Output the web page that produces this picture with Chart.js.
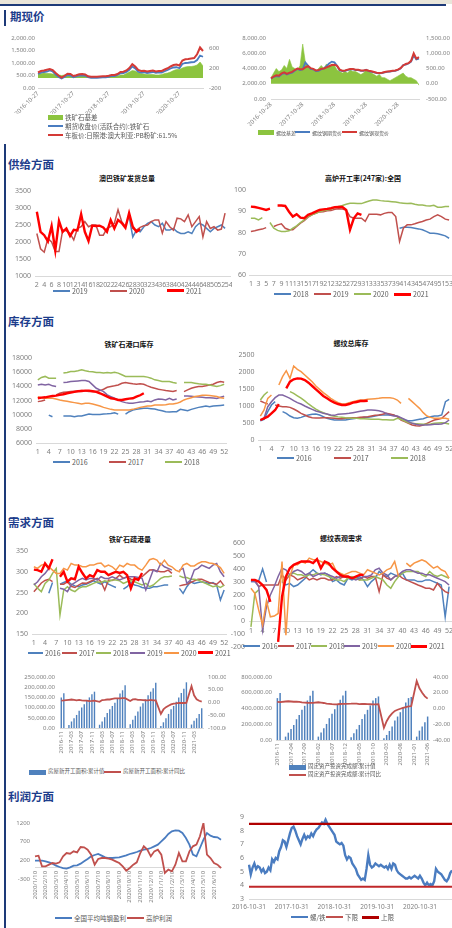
<!DOCTYPE html>
<html lang="zh-CN">
<head>
<meta charset="utf-8">
<title>黑色产业链数据跟踪</title>
<script src="https://cdn.jsdelivr.net/npm/chart.js@4.4.1/dist/chart.umd.min.js"></script>
<style>
  html, body { margin: 0; padding: 0; background: #fff; }
  body { position: relative; width: 452px; height: 928px; overflow: hidden;
         font-family: "Noto Sans CJK SC", "Noto Sans", sans-serif; }
  .band { position: absolute; left: 0; top: 0; width: 452px; height: 4px; background: #e9e5d9; }
  .rule { position: absolute; left: 0; top: 4px; width: 446px; height: 2px; background: #1d3a78; }
  .edge { position: absolute; left: 4px; width: 1.5px; background: #1d3a78; }
  .sec { position: absolute; left: 8px; font-size: 11.5px; font-weight: 700; color: #1d3d8c;
         line-height: 1; transform: translateY(-50%); white-space: nowrap; }
  .ttl { position: absolute; font-size: 7px; font-weight: 700; color: #111; line-height: 1;
         white-space: nowrap; transform: translate(-50%, -50%); }
  .lg { position: absolute; color: #595959; line-height: 1; white-space: nowrap; transform: translateY(-50%); }
  .sw { position: absolute; }
  canvas { position: absolute; }
</style>
</head>
<body>
<div class="band"></div>
<div class="rule"></div>
<div class="edge" style="top:10px;height:16px"></div>
<div class="edge" style="top:144px;height:784px"></div>

<div class="sec" style="top:17px;left:10px">期现价</div>
<div class="sec" style="top:165px">供给方面</div>
<div class="sec" style="top:322px">库存方面</div>
<div class="sec" style="top:523px">需求方面</div>
<div class="sec" style="top:797px">利润方面</div>

<div class="ttl" style="left:127px;top:178px">澳巴铁矿发货总量</div>
<div class="ttl" style="left:363px;top:178px">高炉开工率(247家):全国</div>
<div class="ttl" style="left:129px;top:344px">铁矿石港口库存</div>
<div class="ttl" style="left:351px;top:343px">螺纹总库存</div>
<div class="ttl" style="left:130px;top:539px">铁矿石疏港量</div>
<div class="ttl" style="left:341px;top:538px">螺纹表观需求</div>

<script>
// ---------------------------------------------------------------------------
// Category helpers (dates / week numbers)
// ---------------------------------------------------------------------------
const pad2 = n => String(n).padStart(2, '0');
function monthSeq(y0, m0, y1, m1) {
  const out = [];
  let y = y0, m = m0;
  while (y < y1 || (y === y1 && m <= m1)) {
    out.push([y, m]);
    m++; if (m > 12) { m = 1; y++; }
  }
  return out;
}
function range(a, b) { const r = []; for (let i = a; i <= b; i++) r.push(String(i)); return r; }
// place readings that begin at a later week into a full-length week array
function fromWeek(total, startIdx, vals) {
  const a = new Array(total).fill(null);
  vals.forEach((v, i) => { a[startIdx + i] = v; });
  return a;
}

// ---------------------------------------------------------------------------
// 期现价: iron ore (monthly, 2016-10 .. 2021-06)
// ---------------------------------------------------------------------------
const oreDates = monthSeq(2016, 10, 2021, 6).map(([y, m]) => `${y}-${pad2(m)}-27`);
const oreSpot = [620,680,700,730,760,720,600,500,420,490,
                 570,560,480,510,550,560,540,470,450,450,
                 450,460,470,470,490,520,520,560,640,650,
                 700,800,950,860,720,680,690,660,680,700,
                 660,680,680,740,790,860,920,940,900,1100,
                 1150,1160,1180,1200,1350,1620,1480];
const oreFutures = [560,610,640,660,700,660,540,440,380,440,
                    520,500,430,460,500,510,490,430,410,410,
                    410,420,430,430,450,480,480,520,590,600,
                    640,730,860,780,650,620,630,600,620,640,
                    610,630,620,670,720,780,820,830,790,960,
                    1000,1010,1030,1040,1120,1300,1250];
const oreBasis = [80,90,100,90,90,80,70,60,50,60,
                  60,60,50,50,50,40,40,30,30,30,
                  30,30,30,30,30,40,40,40,60,60,
                  90,120,150,140,110,90,80,70,70,70,
                  60,60,70,90,100,120,150,170,170,200,
                  220,230,230,240,260,320,240];

// 期现价: rebar (monthly, 2016-10 .. 2021-06)
const rebarDates = monthSeq(2016, 10, 2021, 6).map(([y, m]) => `${y}-${pad2(m)}-28`);
const rebarSpot = [2700,2950,3100,3050,3350,3500,3300,3450,3550,3800,
                   4000,3900,3900,4150,4300,4050,3950,3750,3800,3950,
                   4000,4150,4300,4450,4500,4350,3850,3700,3750,3850,
                   3950,3950,3850,3850,3750,3750,3800,3700,3650,3550,
                   3450,3400,3450,3550,3600,3650,3700,3750,3850,4050,
                   4400,4600,4700,5000,6000,5300,5500];
const rebarFutures = [2650,2900,3000,2950,3250,3400,3200,3350,3450,3700,
                      3950,3800,3900,4800,4400,3950,3900,3650,3700,3900,
                      4000,4300,4650,4900,4800,4350,3750,3650,3700,3800,
                      3900,3900,3800,3800,3700,3700,3850,3650,3550,3500,
                      3400,3350,3400,3500,3550,3600,3650,3700,3800,4000,
                      4450,4500,4650,4900,5700,5200,5300];
const rebarBasis = [200,350,500,400,450,600,500,800,550,500,
                    450,600,1300,700,600,500,450,400,500,600,
                    500,650,550,650,600,450,400,350,400,350,
                    450,400,400,350,300,350,450,400,350,300,
                    250,300,200,200,150,100,150,200,250,300,
                    350,250,200,200,150,100,-50];

// ---------------------------------------------------------------------------
// 供给方面
// ---------------------------------------------------------------------------
const shipWeeks = range(2, 54);               // 53 weeks on the axis
const ship2019 = fromWeek(53, 25, [2750,2150,2350,2300,2450,2550,2600,2500,2450,2550,2350,2350,2400,
                                   2300,2250,2250,2300,2250,2450,2550,2500,2400,2300,2400,2450,2500,2400]);
const ship2020 = fromWeek(53, 0, [2250,1800,1700,2100,2000,1720,1720,2350,2330,2250,2060,2400,2450,2600,
                                  2450,2500,2500,2200,2200,2400,2450,2550,2950,2600,2450,2800,2400,2350,
                                  2430,2480,2500,2600,2650,2650,2260,2600,2450,2350,2700,2680,2600,2800,
                                  2450,2600,2750,2150,2600,2400,2450,2350,2380,2850]);
const ship2021 = fromWeek(53, 0, [2890,2300,2200,2020,2470,1750,2620,2300,2400,2180,2360,2340,2820,2300,
                                  2030,2480,2470,2480,2430,2300,2650,2400,2650,2560,2420,2850,2450,2300,2380]);

const bfWeeks = range(1, 53);
const bf2018 = fromWeek(53, 39, [82,82.5,82.5,82.3,82,81.7,81.3,80.5,79.7,79.7,79.4,78.9,78.4,77.3]);
const bf2019 = [80.5,80.8,81.3,81.6,82.3,null,82.8,83.6,84.1,82,81.3,81.3,82.8,84.4,85.6,87.2,88.3,89,89.7,89.8,
                90.2,90.3,90.9,91.2,91.1,90.6,87.5,86.7,86.7,86.7,85.2,88.6,88.6,88.6,88.3,89,89.4,89.4,87.5,75.8,
                82,83.6,83.6,84.1,84.7,85.2,85.9,86.3,87.5,88.3,87.5,86.3,85.9];
const bf2020 = [86.7,86.7,85.9,87,null,84.7,82,81,80.5,80.5,80.8,82,83.1,84.7,85.9,87.5,88.3,89,89.8,90.2,
                90.6,90.9,91.7,92.2,92.7,93.3,93.8,93.8,93.6,93.6,94.2,94.8,95.3,95.3,95,94.8,94.7,94.5,94.3,94,
                93.8,93.6,93.8,93.3,92.9,92.9,92.6,92.5,92.8,91.9,91.9,92.2,92.2];
const bf2021 = fromWeek(53, 0, [92.2,92,91.6,91.1,90.6,91.2,null,92.7,92.7,92.5,89.8,87.5,88.6,87,86.7,88.3,89,
                                89.8,90.6,90.9,91.1,91.4,91.9,92,92,90.6,81.3,86.7,89,88.3]);

// ---------------------------------------------------------------------------
// 库存方面
// ---------------------------------------------------------------------------
const weeks52 = range(1, 52);
const port2016 = [null,null,null,9940,9700,null,null,9800,9800,9800,9700,9800,9800,9940,10080,10030,10030,10030,10080,10120,
                  10180,10270,10080,null,10080,10420,10650,10750,10840,10890,10890,10840,10800,10650,10560,10420,10370,10420,10420,10750,
                  10650,10560,10750,10890,11030,11130,11220,11130,11220,11270,11310,11360];
const port2017 = [11840,11930,12080,null,null,12790,13020,13170,13210,13260,13300,13350,13400,13350,13260,13260,13260,13400,13590,13870,
                  13970,14070,14200,14440,14540,14440,14350,14300,14350,14300,14070,13870,13730,13590,13500,13400,13350,13260,13400,null,
                  13260,13500,13730,13870,13970,13970,14070,14200,14300,14540,14680,14590];
const port2018 = [14900,15250,15400,15150,15150,15150,null,15870,15960,16100,16100,16200,16340,16200,16100,16050,15960,15960,15870,15960,
                  15870,16000,15870,15630,15400,15400,15400,15400,15400,15400,15300,15150,14920,14820,14680,14680,14680,14540,14440,null,
                  14540,14540,14540,14440,14350,14300,14300,14200,14070,13970,14100,14300];
const port2019 = [14200,14300,14200,14300,14070,13970,null,14540,14590,14680,14730,14770,14820,14820,14680,14200,13730,13500,13260,12790,
                  12550,12310,12080,11840,11700,11600,11600,11700,11790,11840,11930,11840,12080,12220,12170,12080,12310,12080,12220,null,
                  12640,12640,12590,12540,12500,12450,12400,12400,12350,12300,12450,12600];
const port2020 = [12550,12400,12310,12310,12310,12220,12080,11980,11890,11790,11700,11600,11500,11600,11600,11500,11360,11220,11030,10890,
                  10750,10650,10650,10650,10650,10650,10750,10890,11030,11130,11220,11220,11360,11360,11360,11410,11500,11500,11600,11790,
                  12080,12260,12400,12550,12640,12740,12740,12690,12640,12550,12400,12310];
const port2021 = fromWeek(52, 0, [12310,12400,12450,12550,12640,12690,12790,12880,13020,13120,13210,13300,13350,13400,13400,
                                  13300,13210,13020,12790,12550,12310,12220,12080,12080,12170,12260,12310,12550,12740,13020]);

const stock2016 = [568,608,833,1029,1127,null,833,784,705,657,637,666,705,735,755,764,735,686,637,608,
                   588,588,588,588,608,627,637,637,666,666,686,705,725,735,735,735,735,686,637,588,
                   568,568,588,608,627,666,686,705,705,735,1127,1196];
const stock2017 = [1147,1098,1058,null,1029,1000,980,980,960,911,853,784,735,686,657,647,647,657,657,647,
                   637,627,627,637,647,657,657,666,676,686,705,725,735,755,784,764,735,686,588,539,
                   490,441,421,412,441,490,539,588,608,637,735,833];
const stock2018 = [1176,1323,1421,null,null,null,null,null,1421,1372,1300,1230,1150,1060,980,910,850,800,760,720,
                   700,680,670,657,647,637,637,627,627,617,608,608,608,598,598,588,588,637,608,559,
                   510,490,480,470,461,461,470,490,500,510,490,470];
const stock2019 = [568,637,980,1127,1245,1323,1323,1274,1225,1156,1098,1058,1000,950,902,853,823,784,764,735,
                   725,755,764,774,784,804,823,843,862,882,882,872,862,833,784,735,705,705,657,608,
                   539,490,461,441,441,441,451,461,461,471,510,588];
const stock2020 = [705,882,1225,1323,null,1617,1862,2038,1813,2176,2078,2009,1911,1813,1715,1588,1490,1392,1313,1225,
                   1156,1098,1058,1058,1098,1127,1156,1176,1176,1196,1205,1215,1225,1245,1245,1245,1225,1176,1078,null,
                   1225,1127,1029,931,804,705,666,637,637,637,637,608];
const stock2021 = fromWeek(52, 0, [588,637,686,784,882,1058,null,1520,1715,1785,1813,1805,1764,1686,1588,1490,1392,1294,1225,
                                   1156,1098,1058,1029,1029,1058,1098,1117,1147,1147,1156]);

// ---------------------------------------------------------------------------
// 需求方面
// ---------------------------------------------------------------------------
const dis2016 = [null,null,null,null,248,274,null,270,274,278,270,266,264,268,270,274,278,274,270,276,
                 270,266,262,null,258,264,274,268,266,262,260,260,264,264,266,268,268,null,null,260,
                 248,264,276,272,274,276,274,272,274,268,232,256];
const dis2017 = [252,262,273,279,282,276,null,270,270,276,265,262,268,273,272,276,280,284,276,256,
                 280,279,284,292,284,288,282,280,284,288,296,304,305,302,300,300,304,296,null,266,
                 268,270,274,278,282,282,278,274,272,270,278,266];
const dis2018 = [272,260,252,272,280,296,308,196,256,264,256,252,260,264,264,268,272,276,274,278,
                 276,280,280,278,272,276,278,276,272,268,272,264,268,276,284,288,288,290,null,290,
                 286,286,282,282,280,276,272,268,264,266,262,268];
const dis2019 = [268,276,288,296,308,null,null,260,258,252,268,274,280,284,280,284,284,280,288,284,
                 284,288,284,280,284,288,288,288,286,284,256,280,304,300,320,312,308,304,null,304,
                 308,272,280,304,308,316,312,308,316,320,300,288];
const dis2020 = [312,308,316,318,312,304,296,296,308,304,320,316,316,312,312,316,316,320,321,312,
                 316,312,304,316,312,320,316,316,308,304,316,329,332,328,316,328,316,312,304,300,
                 316,320,314,314,320,324,324,321,320,316,310,296];
const dis2021 = fromWeek(52, 0, [305,304,300,320,308,330,null,288,300,276,284,282,312,297,284,292,288,304,300,300,
                                 292,296,300,297,300,292,260,284,280,297]);

const app2016 = [303,303,310,400,300,null,null,null,303,277,290,265,277,303,329,368,394,368,355,368,
                 355,303,316,290,277,329,316,329,342,316,265,303,329,381,355,342,368,355,342,368,
                 316,316,316,303,303,316,316,303,290,277,32,265];
const app2017 = [316,316,265,277,277,277,277,277,355,316,355,342,316,329,342,316,329,316,329,329,
                 316,316,342,329,342,329,329,329,316,342,329,342,342,226,355,329,316,342,355,329,
                 316,303,290,277,265,252,252,239,290,252,226,213];
const app2018 = [-45,213,239,null,null,null,null,null,303,342,355,368,355,355,342,355,355,368,362,355,
                 342,329,316,316,303,329,342,329,316,316,316,329,342,329,316,277,252,303,342,368,
                 381,381,381,381,355,342,381,355,342,355,342,329];
const app2019 = [303,303,265,-70,110,200,265,342,406,394,355,381,394,381,355,368,342,355,368,368,
                 355,342,329,342,342,342,329,316,329,342,342,355,394,406,368,355,316,342,355,381,
                 394,394,381,368,368,355,355,342,329,316,303,277];
const app2020 = [252,213,84,-32,156,32,38,58,458,-110,342,432,432,458,445,484,471,471,458,445,
                 432,445,381,368,355,368,381,381,368,355,394,381,368,355,368,394,406,458,342,null,
                 445,420,445,458,471,458,432,406,420,394,381,329];
const app2021 = fromWeek(52, 0, [316,316,303,277,239,148,null,-160,187,342,406,432,445,458,458,458,445,476,406,458,
                                 445,406,381,355,342,342,329,342,355,355]);

// monthly cumulative series, 2016-11 .. 2021-06 (January folded into February)
const macroMonths = monthSeq(2016, 11, 2021, 6).map(([y, m]) => `${y}-${pad2(m)}`);
const housingStarts = [150000,170000,
  null,15000,32000,48000,64000,85000,100000,116000,134000,150000,165000,178000,
  null,16000,32000,53000,73000,92000,108000,124000,145000,169000,185000,209000,
  null,18000,40000,60000,81000,105000,121000,140000,161000,178000,195000,222000,
  null,10000,28000,48000,69000,92000,108000,129000,150000,172000,192000,224000,
  null,17000,36000,48000,69000,97000];
const housingYoY = [7.6,8.1,
  null,10.4,11.7,10.2,8.4,10.6,8.6,7.6,7.6,5.6,6.1,7.0,
  null,2.9,9.7,10.3,11.8,11.8,14.4,15.9,16.4,16.3,16.8,17.2,
  null,6.0,11.9,13.1,10.5,10.1,9.5,8.9,8.6,10.0,8.6,8.5,
  null,-44.9,-27.2,-18.4,-12.8,-7.6,-4.5,-3.6,-1.9,-1.7,-2.0,-1.2,
  null,64.3,28.2,12.8,6.9,3.8];
const fixedInvest = [532000,596000,
  null,43000,93000,140000,190000,264000,319000,383000,434000,502000,562000,625000,
  null,43000,94000,149000,204000,277000,332000,391000,447000,510000,566000,625000,
  null,34000,85000,136000,191000,268000,328000,383000,438000,502000,532000,553000,
  null,21000,64000,115000,170000,247000,298000,353000,413000,477000,532000,545000,
  null,43000,119000,170000,226000,298000];
const fixedYoY = [8.3,8.1,
  null,8.9,9.2,8.9,8.6,8.6,8.3,7.8,7.5,7.3,7.2,7.2,
  null,7.9,7.5,7.0,6.1,6.0,5.5,5.3,5.4,5.7,5.9,5.9,
  null,6.1,6.3,6.1,5.6,5.8,5.7,5.5,5.4,5.2,5.2,5.4,
  null,-24.5,-16.1,-10.3,-6.3,-3.1,-1.6,-0.3,0.8,1.8,2.6,2.9,
  null,35.0,25.6,19.9,15.4,12.6];

// ---------------------------------------------------------------------------
// 利润方面
// ---------------------------------------------------------------------------
const profitDates = monthSeq(2020, 1, 2021, 6).flatMap(([y, m]) =>
  [10, 20, m === 2 ? 28 : 30].map(d => `${y}/${m}/${d}`));
const steelProfit = [191,191,191,173,146,111,57,21,-6,-23,12,57,66,111,173,236,307,343,370,325,
                     280,262,262,271,280,307,334,370,396,423,459,486,503,530,575,620,709,798,905,977,
                     1004,995,932,798,620,352,307,530,753,932,861,825,816,753];
const blastProfit = [307,325,39,39,84,128,111,146,307,396,378,441,414,557,548,486,352,84,236,262,
                     262,244,218,173,128,39,-77,-6,84,146,396,575,486,307,441,486,352,-139,-50,-95,
                     84,396,173,173,441,575,620,843,1200,352,262,128,84,-6];

const ratioDates = ['2016-10-31'].concat(monthSeq(2016, 11, 2021, 7).flatMap(([y, m]) =>
  [`${y}-${pad2(m)}-15`, `${y}-${pad2(m)}-${new Date(y, m, 0).getDate()}`]));
const rebarOreRatio = [5.5, 4.8,5.3, 5.6,5.2,
  5.4,5.3, 5.0,5.2, 4.9,5.0, 5.3,5.1, 5.9,5.7, 6.0,5.9, 6.5,6.8, 7.3,7.2, 6.8,7.3, 7.8,8.2, 8.3,8.0, 7.6,7.3,
  7.0,7.4, 7.7,7.4, 7.6,7.5, 7.8,7.6, 7.9,8.1, 8.2,8.4, 8.6,8.5, 8.8,8.5, 8.3,8.1, 7.9,7.7, 7.2,7.1, 7.0,7.1,
  6.9,6.2, 5.9,6.1, 6.0,5.6, 5.4,5.2, 4.8,4.6, 4.4,4.5, 4.4,5.2, 6.2,5.5, 5.3,5.4, 5.6,5.5, 5.4,5.5, 5.4,5.3,
  5.4,5.2, 5.5,5.2, 5.6,5.5, 5.1,4.9, 4.8,4.7, 4.6,4.5, 4.5,4.6, 4.5,4.6, 4.7,4.6, 4.5,4.7, 4.5,4.2, 4.0,4.2,
  4.0,4.1, 4.0,4.3, 5.2,5.0, 4.9,4.8, 4.6,4.4, 4.3,4.5, 4.9,5.1];
const ratioLower = 3.9;
const ratioUpper = 8.5;

// ---------------------------------------------------------------------------
// Drawing
// ---------------------------------------------------------------------------
const GREY = '#808080';
const AXIS = '#d9d9d9';
const C = { blue: '#4f81bd', red: '#c0504d', green: '#9bbb59', purple: '#8064a2', orange: '#f79646',
            hot: '#ff0000', lineBlue: '#4a7cc0', lineRed: '#d43a36', area: '#8cc43f' };

Chart.defaults.font.family = '"Noto Sans", "Noto Sans CJK SC", sans-serif';
Chart.defaults.color = GREY;
Chart.defaults.animation = false;
Chart.defaults.plugins.legend.display = false;
Chart.defaults.plugins.tooltip.enabled = false;

function zeroPad(s) { s.paddingLeft = 0; s.paddingRight = 0; s.paddingTop = 0; s.paddingBottom = 0; }
function fixW(w) { return s => { s.width = w; zeroPad(s); }; }
function fixH(h) { return s => { s.height = h; zeroPad(s); }; }

function valueAxis(pos, width, min, max, step, size, fmt, padding) {
  return {
    type: 'linear', position: pos, min, max,
    grid: { display: false, drawTicks: false }, border: { display: false },
    ticks: { stepSize: step, font: { size }, color: GREY, padding: padding, callback: fmt || (v => v) },
    afterFit: fixW(width)
  };
}
function catAxis(height, size, show, opt) {
  opt = opt || {};
  return {
    type: 'category', position: opt.position || 'bottom', offset: opt.offset !== false,
    grid: { display: false, drawTicks: false },
    border: { display: true, color: AXIS, width: 1 },
    ticks: {
      autoSkip: false, maxRotation: opt.rot || 0, minRotation: opt.rot || 0,
      font: { size }, color: GREY, padding: opt.padding ?? 5,
      callback: function (v, i) { return show(i, this.getLabelForValue(v)) ? this.getLabelForValue(v) : null; }
    },
    afterFit: fixH(height)
  };
}
function line(data, color, width, axis, extra) {
  return Object.assign({ type: 'line', data, borderColor: color, backgroundColor: color, borderWidth: width,
    pointRadius: 0, tension: 0, spanGaps: false, fill: false, yAxisID: axis || 'y' }, extra || {});
}
// later series are painted over earlier ones
function stack(ds) { ds.forEach((d, i) => { d.order = ds.length - i; }); return ds; }

function build(box, plot, labels, datasets, scales, padExtra) {
  const cv = document.createElement('canvas');
  cv.width = box.w; cv.height = box.h;
  Object.assign(cv.style, { left: box.l + 'px', top: box.t + 'px', width: box.w + 'px', height: box.h + 'px' });
  document.body.appendChild(cv);
  const padding = Object.assign({ top: plot.t - box.t, left: 0, right: 0, bottom: 0 }, padExtra || {});
  return new Chart(cv, {
    data: { labels, datasets: stack(datasets) },
    options: { responsive: false, maintainAspectRatio: false, layout: { padding }, scales }
  });
}
function geo(box, plot) {
  return { left: plot.l - box.l, right: box.l + box.w - plot.r, bottom: box.t + box.h - plot.b };
}

const money = v => v.toLocaleString('en-US', { minimumFractionDigits: 2, maximumFractionDigits: 2 });
const plain = v => String(v);

// ---- 期现价: 铁矿石 ----
(() => {
  const box = { l: 0, t: 30, w: 226, h: 84 }, plot = { l: 38, t: 38, r: 203, b: 88 }, g = geo(box, plot);
  build(box, plot, oreDates, [
    line(oreBasis, C.area, 0.6, 'y1', { fill: 'origin', backgroundColor: C.area }),
    line(oreFutures, C.lineBlue, 1.8),
    line(oreSpot, C.lineRed, 2)
  ], {
    x: catAxis(g.bottom, 6, (i, l) => l.slice(5, 7) === '10', { offset: false, rot: 45, padding: 2 }),
    y: valueAxis('left', g.left, 0, 2000, 500, 6, money, 3),
    y1: valueAxis('right', g.right, -200, 800, 200, 6, plain, 6)
  });
})();

// ---- 期现价: 螺纹钢 ----
(() => {
  const box = { l: 226, t: 30, w: 226, h: 96 }, plot = { l: 271, t: 38, r: 419, b: 99 }, g = geo(box, plot);
  build(box, plot, rebarDates, [
    line(rebarBasis, C.area, 0.6, 'y1', { fill: 'origin', backgroundColor: C.area }),
    line(rebarFutures, C.lineBlue, 1.8),
    line(rebarSpot, C.lineRed, 2)
  ], {
    x: catAxis(g.bottom, 6, (i, l) => l.slice(5, 7) === '10', { offset: false, rot: 45, padding: 2 }),
    y: valueAxis('left', g.left, 0, 8000, 2000, 6, money, 5),
    y1: valueAxis('right', g.right, -500, 1500, 500, 6, money, 7)
  });
})();

// ---- 澳巴铁矿发货总量 ----
(() => {
  const box = { l: 0, t: 185, w: 232, h: 106 }, plot = { l: 35, t: 191, r: 230.6, b: 276 }, g = geo(box, plot);
  build(box, plot, shipWeeks, [
    line(ship2019, C.blue, 1.5),
    line(ship2020, C.red, 1.5),
    line(ship2021, C.hot, 2.4)
  ], {
    x: catAxis(g.bottom, 7, (i, l) => Number(l) % 2 === 0, { padding: 5 }),
    y: valueAxis('left', g.left, 1000, 3500, 500, 7, plain, 4)
  }, { right: g.right });
})();

// ---- 高炉开工率 ----
(() => {
  const box = { l: 226, t: 185, w: 226, h: 106 }, plot = { l: 249, t: 190, r: 451, b: 275 }, g = geo(box, plot);
  build(box, plot, bfWeeks, [
    line(bf2018, C.blue, 1.5),
    line(bf2019, C.red, 1.5),
    line(bf2020, C.green, 1.5),
    line(bf2021, C.hot, 2.4)
  ], {
    x: catAxis(g.bottom, 7, (i, l) => Number(l) % 2 === 1, { padding: 5 }),
    y: valueAxis('left', g.left, 60, 100, 5, 7, plain, 3)
  }, { right: g.right });
})();

// ---- 铁矿石港口库存 ----
(() => {
  const box = { l: 0, t: 350, w: 232, h: 106 }, plot = { l: 36, t: 358, r: 226, b: 443 }, g = geo(box, plot);
  build(box, plot, weeks52, [
    line(port2016, C.blue, 1.5), line(port2017, C.red, 1.5), line(port2018, C.green, 1.5),
    line(port2019, C.purple, 1.5), line(port2020, C.orange, 1.5), line(port2021, C.hot, 2.4)
  ], {
    x: catAxis(g.bottom, 7, i => i % 3 === 0, { padding: 5 }),
    y: valueAxis('left', g.left, 6000, 18000, 2000, 7, plain, 4)
  }, { right: g.right });
})();

// ---- 螺纹总库存 ----
(() => {
  const box = { l: 226, t: 348, w: 226, h: 104 }, plot = { l: 258.5, t: 355, r: 451, b: 440 }, g = geo(box, plot);
  build(box, plot, weeks52, [
    line(stock2016, C.blue, 1.5), line(stock2017, C.red, 1.5), line(stock2018, C.green, 1.5),
    line(stock2019, C.purple, 1.5), line(stock2020, C.orange, 1.5), line(stock2021, C.hot, 2.4)
  ], {
    x: catAxis(g.bottom, 7, i => i % 3 === 0, { padding: 5 }),
    y: valueAxis('left', g.left, 0, 2500, 500, 7, plain, 4)
  }, { right: g.right });
})();

// ---- 铁矿石疏港量 ----
(() => {
  const box = { l: 0, t: 545, w: 232, h: 104 }, plot = { l: 32, t: 551, r: 226, b: 634 }, g = geo(box, plot);
  build(box, plot, weeks52, [
    line(dis2016, C.blue, 1.5), line(dis2017, C.red, 1.5), line(dis2018, C.green, 1.5),
    line(dis2019, C.purple, 1.5), line(dis2020, C.orange, 1.5), line(dis2021, C.hot, 2.4)
  ], {
    x: catAxis(g.bottom, 7, i => i % 3 === 0, { padding: 5 }),
    y: valueAxis('left', g.left, 150, 350, 50, 7, plain, 4)
  }, { right: g.right });
})();

// ---- 螺纹表观需求 (category axis crosses at zero) ----
(() => {
  const box = { l: 226, t: 538, w: 226, h: 112 }, plot = { l: 249, t: 543, r: 451, b: 647 }, g = geo(box, plot);
  build(box, plot, weeks52, [
    line(app2016, C.blue, 1.5), line(app2017, C.red, 1.5), line(app2018, C.green, 1.5),
    line(app2019, C.purple, 1.5), line(app2020, C.orange, 1.5), line(app2021, C.hot, 2.4)
  ], {
    x: catAxis(20, 7, i => i % 3 === 0, { position: { y: 0 }, padding: 6 }),
    y: valueAxis('left', g.left, -200, 600, 100, 7, plain, 4)
  }, { right: g.right, bottom: g.bottom });
})();

// ---- 房屋新开工面积 ----
(() => {
  const box = { l: 0, t: 670, w: 226, h: 95 }, plot = { l: 60, t: 677, r: 203, b: 728 }, g = geo(box, plot);
  build(box, plot, macroMonths, [
    { type: 'bar', data: housingStarts, backgroundColor: C.blue, barPercentage: 0.55, categoryPercentage: 1, yAxisID: 'y' },
    line(housingYoY, C.red, 1.8, 'y1', { spanGaps: true })
  ], {
    x: catAxis(g.bottom, 6, i => i % 4 === 0, { rot: 90, padding: 3 }),
    y: valueAxis('left', g.left, 0, 250000, 50000, 6, money, 5),
    y1: valueAxis('right', g.right, -100, 100, 50, 6, money, 5)
  });
})();

// ---- 固定资产投资完成额 ----
(() => {
  const box = { l: 226, t: 670, w: 226, h: 108 }, plot = { l: 276, t: 677, r: 429, b: 740 }, g = geo(box, plot);
  build(box, plot, macroMonths, [
    { type: 'bar', data: fixedInvest, backgroundColor: C.blue, barPercentage: 0.55, categoryPercentage: 1, yAxisID: 'y' },
    line(fixedYoY, C.red, 1.8, 'y1', { spanGaps: true })
  ], {
    x: catAxis(g.bottom, 6, i => i % 5 === 0, { rot: 90, padding: 3 }),
    y: valueAxis('left', g.left, 0, 800000, 200000, 6, money, 4),
    y1: valueAxis('right', g.right, -40, 40, 20, 6, money, 4)
  });
})();

// ---- 吨钢盈利 / 高炉利润 (category axis crosses at zero) ----
(() => {
  const box = { l: 0, t: 815, w: 226, h: 95 }, plot = { l: 35, t: 823, r: 221, b: 879 }, g = geo(box, plot);
  build(box, plot, profitDates, [
    line(steelProfit, C.lineBlue, 1.8),
    line(blastProfit, C.red, 1.8)
  ], {
    x: catAxis(30, 6, (i, l) => l.endsWith('/10'), { position: { y: 0 }, offset: false, rot: 90, padding: 3 }),
    y: valueAxis('left', g.left, -300, 1200, 500, 6, plain, 5)
  }, { right: g.right, bottom: g.bottom });
})();

// ---- 螺/铁 比价 ----
(() => {
  const box = { l: 226, t: 810, w: 226, h: 104 }, plot = { l: 249, t: 817, r: 452, b: 899 }, g = geo(box, plot);
  build(box, plot, ratioDates, [
    line(rebarOreRatio, C.lineBlue, 2.4),
    line(ratioDates.map(() => ratioLower), '#c0282a', 2),
    line(ratioDates.map(() => ratioUpper), '#b00000', 2.2)
  ], {
    x: catAxis(g.bottom, 6.5, (i, l) => l.endsWith('-10-31'), { offset: false, padding: 4 }),
    y: valueAxis('left', g.left, 3, 9, 1, 7, plain, 5)
  }, { right: g.right });
})();

// ---------------------------------------------------------------------------
// Legends
// ---------------------------------------------------------------------------
function legend(y, size, items) {
  items.forEach(it => {
    const h = it.box ? 5 : (it.h || 2);
    const sw = document.createElement('div');
    sw.className = 'sw';
    Object.assign(sw.style, { left: it.x + 'px', top: (y - h / 2) + 'px', width: (it.w || 17) + 'px',
                              height: h + 'px', background: it.c });
    document.body.appendChild(sw);
    const tx = document.createElement('div');
    tx.className = 'lg';
    tx.textContent = it.t;
    Object.assign(tx.style, { left: (it.x + (it.w || 17) + 2) + 'px', top: y + 'px', fontSize: size + 'px' });
    document.body.appendChild(tx);
  });
}
legend(117, 6.5, [{ x: 48, w: 15, c: C.area, box: true, t: '铁矿石基差' }]);
legend(126, 6.5, [{ x: 48, w: 15, c: C.lineBlue, t: '期货收盘价(活跃合约):铁矿石' }]);
legend(135, 6.5, [{ x: 48, w: 15, c: C.lineRed, t: '车板价:日照港:澳大利亚:PB粉矿:61.5%' }]);
legend(132, 5, [
  { x: 258, w: 16, c: C.area, box: true, t: '螺纹基差' },
  { x: 295, w: 15, c: C.lineBlue, t: '螺纹钢期货价' },
  { x: 342, w: 15, c: C.lineRed, t: '螺纹钢现货价' }
]);
legend(290.5, 7, [
  { x: 53, c: C.blue, t: '2019' }, { x: 110, c: C.red, t: '2020' }, { x: 167, c: C.hot, h: 3, t: '2021' }
]);
legend(294, 7, [
  { x: 274, c: C.blue, t: '2018' }, { x: 314, c: C.red, t: '2019' },
  { x: 354, c: C.green, t: '2020' }, { x: 394, c: C.hot, h: 3, t: '2021' }
]);
legend(461.5, 7, [
  { x: 53, c: C.blue, t: '2016' }, { x: 109, c: C.red, t: '2017' }, { x: 165, c: C.green, t: '2018' }
]);
legend(457.5, 7, [
  { x: 277, c: C.blue, t: '2016' }, { x: 334, c: C.red, t: '2017' }, { x: 391, c: C.green, t: '2018' }
]);
legend(652.5, 7, [
  { x: 28, w: 15, c: C.blue, t: '2016' }, { x: 62, w: 15, c: C.red, t: '2017' },
  { x: 96, w: 15, c: C.green, t: '2018' }, { x: 130, w: 15, c: C.purple, t: '2019' },
  { x: 164, w: 15, c: C.orange, t: '2020' }, { x: 198, w: 15, c: C.hot, h: 3, t: '2021' }
]);
legend(646, 7, [
  { x: 243, w: 17, c: C.blue, t: '2016' }, { x: 278, w: 16, c: C.red, t: '2017' },
  { x: 311, w: 16, c: C.green, t: '2018' }, { x: 344, w: 16, c: C.purple, t: '2019' },
  { x: 378, w: 16, c: C.orange, t: '2020' }, { x: 411, w: 16, c: C.hot, h: 3, t: '2021' }
]);
legend(772, 5.5, [
  { x: 29, w: 17, c: C.blue, box: true, t: '房屋新开工面积:累计值' },
  { x: 104, w: 17, c: C.red, t: '房屋新开工面积:累计同比' }
]);
legend(767, 5.5, [{ x: 289, w: 17, c: C.blue, box: true, t: '固定资产投资完成额:累计值' }]);
legend(775, 5.5, [{ x: 289, w: 17, c: C.red, t: '固定资产投资完成额:累计同比' }]);
legend(918, 6.5, [
  { x: 55, w: 17, c: C.lineBlue, t: '全国平均吨钢盈利' }, { x: 127, w: 17, c: C.red, t: '高炉利润' }
]);
legend(917, 6.5, [
  { x: 291, w: 17, c: C.lineBlue, t: '螺/铁' }, { x: 326, w: 17, c: '#c0504d', t: '下限' },
  { x: 362, w: 17, c: '#b00000', h: 3, t: '上限' }
]);
</script>
</body>
</html>
